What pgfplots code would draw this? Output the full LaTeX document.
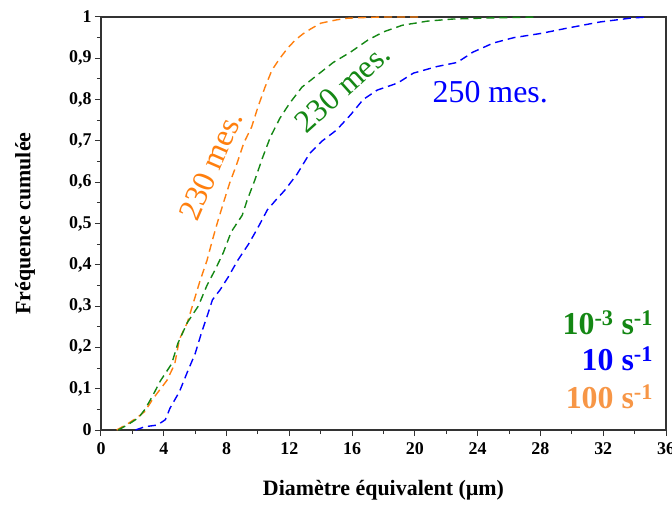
\documentclass[border=0pt]{standalone}
\usepackage{pgfplots}
\pgfplotsset{compat=1.18}
\usepackage{fontspec}
\setmainfont{Liberation Serif}
\definecolor{corange}{RGB}{255,127,14}
\definecolor{lorange}{RGB}{247,150,70}
\definecolor{cgreen}{RGB}{20,135,20}
\definecolor{cblue}{RGB}{0,0,255}
\begin{document}
\begin{tikzpicture}
\path[use as bounding box] (-101bp,-75bp) rectangle (571bp,430bp);
\begin{axis}[
  scale only axis, width=565bp, height=413bp,
  xmin=0, xmax=36, ymin=0, ymax=1,
  xtick={0,4,...,36}, minor x tick num=1,
  ytick={0,0.1,...,1}, minor y tick num=1,
  tick align=outside, major tick length=6bp, minor tick length=4bp,
  xtick pos=bottom, ytick pos=left,
  axis line style={black!80, line width=1.2bp},
  every tick/.style={black!80, line width=1bp},
  /pgf/number format/assume math mode=true,
  /pgf/number format/use comma,
  ticklabel style={font=\bfseries\fontsize{18}{18}\selectfont},
  xticklabel style={yshift=-3bp},
  xlabel={Diamètre équivalent (µm)},
  ylabel={Fréquence cumulée},
  xlabel style={font=\bfseries\fontsize{22}{22}\selectfont, at={(axis description cs:0.5,-0.145)}, anchor=center},
  ylabel style={font=\bfseries\fontsize{22}{22}\selectfont, at={(axis description cs:-0.1345,0.5)}, anchor=center},
  clip=false,
]
\addplot[corange, line width=1.4bp, dash pattern=on 8bp off 5bp] coordinates {
(1.0,0) (1.7,0.015) (2.3,0.03) (2.8,0.045) (3.3,0.075) (3.8,0.1) (4.2,0.12) (4.7,0.16) (5.0,0.22) (5.5,0.26) (5.9,0.31) (6.3,0.36) (6.75,0.41) (7.1,0.46) (7.4,0.50) (7.8,0.55) (8.2,0.598) (8.67,0.646) (9.1,0.695) (9.6,0.734) (10.0,0.782) (10.45,0.83) (10.9,0.872) (11.4,0.90) (11.9,0.925) (12.4,0.945) (12.9,0.96) (13.4,0.972) (14.0,0.985) (15.0,0.993) (15.7,0.997) (17,0.999) (18,1) (20.3,1)};
\addplot[cgreen, line width=1.4bp, dash pattern=on 8bp off 5bp] coordinates {
(1.1,0) (1.8,0.015) (2.4,0.03) (2.8,0.05) (3.25,0.08) (3.8,0.12) (4.5,0.16) (4.9,0.21) (5.5,0.26) (6.2,0.30) (6.75,0.35) (7.3,0.39) (7.8,0.43) (8.3,0.48) (9.0,0.52) (9.3,0.555) (9.8,0.605) (10.3,0.66) (10.8,0.71) (11.4,0.755) (12.0,0.79) (12.8,0.83) (13.8,0.86) (14.8,0.89) (15.9,0.915) (17.0,0.944) (18.0,0.964) (19.2,0.98) (20.8,0.99) (22.4,0.995) (25,0.998) (27.8,1)};
\addplot[cblue, line width=1.4bp, dash pattern=on 8bp off 5bp] coordinates {
(2.2,0) (2.8,0.008) (3.6,0.012) (4.1,0.025) (4.4,0.053) (5.0,0.093) (5.5,0.14) (6.0,0.185) (6.4,0.235) (6.8,0.28) (7.1,0.315) (7.6,0.34) (8.1,0.37) (8.7,0.41) (9.4,0.45) (10.0,0.49) (10.6,0.533) (11.1,0.555) (11.7,0.58) (12.5,0.62) (13.3,0.67) (14.1,0.70) (15.0,0.726) (15.9,0.763) (16.7,0.80) (17.6,0.823) (18.9,0.84) (19.9,0.864) (21.4,0.88) (22.7,0.89) (23.7,0.915) (25.0,0.937) (26.3,0.95) (28.0,0.96) (29.7,0.973) (31.8,0.988) (33.7,0.997) (34.8,1.0)};
\node[corange, rotate=66.6, font=\fontsize{32}{32}\selectfont] at (axis cs:7.0,0.64) {230 mes.};
\node[cgreen, rotate=42, font=\fontsize{32}{32}\selectfont] at (axis cs:15.4,0.828) {230 mes.};
\node[cblue, font=\fontsize{32}{32}\selectfont] at (axis cs:24.8,0.818) {250 mes.};
\node[cgreen, anchor=east, font=\bfseries\fontsize{32}{32}\selectfont] at (axis cs:35.4,0.26) {10\textsuperscript{-3} s\textsuperscript{-1}};
\node[cblue, anchor=east, font=\bfseries\fontsize{32}{32}\selectfont] at (axis cs:35.4,0.172) {10 s\textsuperscript{-1}};
\node[lorange, anchor=east, font=\bfseries\fontsize{32}{32}\selectfont] at (axis cs:35.4,0.08) {100 s\textsuperscript{-1}};
\end{axis}
\end{tikzpicture}
\end{document}
